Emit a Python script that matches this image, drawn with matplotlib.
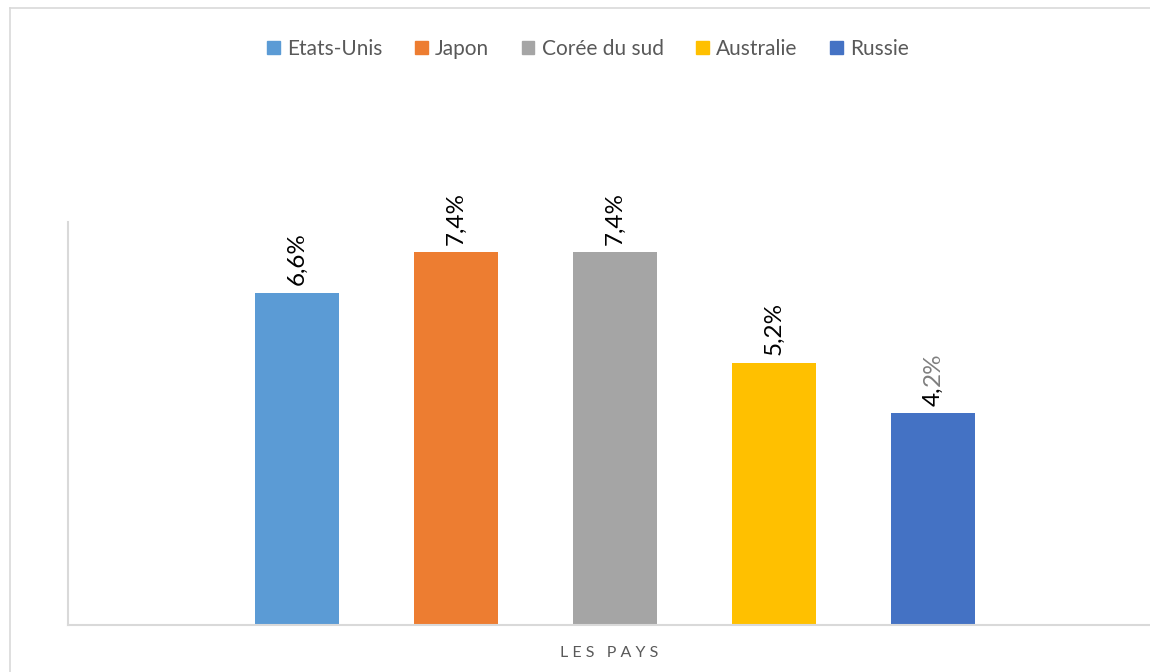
import matplotlib
matplotlib.use('Agg')
import matplotlib.pyplot as plt
from matplotlib.patches import Rectangle
from matplotlib.lines import Line2D

pays = ['Etats-Unis', 'Japon', 'Corée du sud', 'Australie', 'Russie']
valeurs = [6.6, 7.4, 7.4, 5.2, 4.2]
etiquettes = ['6,6%', '7,4%', '7,4%', '5,2%', '4,2%']
couleurs = ['#5b9bd5', '#ed7d31', '#a5a5a5', '#ffc000', '#4472c4']

plt.rcParams['font.family'] = ['Lato', 'DejaVu Sans']

W, H = 1150, 672
fig = plt.figure(figsize=(W / 100, H / 100), dpi=100)

# chart frame (left + top edges visible)
fig.add_artist(Line2D([10 / W, 10 / W], [0, 1 - 8 / H], transform=fig.transFigure,
                      color='#d9d9d9', lw=1.2))
fig.add_artist(Line2D([10 / W, 1], [1 - 8 / H, 1 - 8 / H], transform=fig.transFigure,
                      color='#d9d9d9', lw=1.2))

ax_l, ax_r, ax_b, ax_t = 68, 1162, 625, 222
ax = fig.add_axes([ax_l / W, 1 - ax_b / H, (ax_r - ax_l) / W, (ax_b - ax_t) / H])

x = range(len(pays))
ax.bar(x, valeurs, width=0.527, color=couleurs, zorder=2)
ax.set_xlim(2 - 3.438, 2 + 3.438)
ax.set_ylim(0, 8)

fs = 17.5
for xi, v, lab in zip(x, valeurs, etiquettes):
    if lab == '4,2%':
        # "4," black, "2%" grey as in the original
        t = ax.annotate('4,', (xi, v), xytext=(0, 5.5), textcoords='offset points',
                        rotation=90, ha='center', va='bottom', fontsize=fs, color='black')
        ax.annotate('2%', xy=(0.5, 1), xycoords=t, xytext=(0, 0), textcoords='offset points',
                    rotation=90, ha='center', va='bottom', fontsize=fs, color='#7f7f7f')
    else:
        ax.annotate(lab, (xi, v), xytext=(0, 5.5), textcoords='offset points',
                    rotation=90, ha='center', va='bottom', fontsize=fs, color='black')

for s in ['top', 'right']:
    ax.spines[s].set_visible(False)
for s in ['left', 'bottom']:
    ax.spines[s].set_color('#d9d9d9')
    ax.spines[s].set_linewidth(1.5)
ax.set_xticks([])
ax.set_yticks([])

fig.text(609 / W, 1 - 653 / H, 'L E S   P A Y S', ha='center', va='center',
         fontsize=11.5, color='#595959')

handles = [Rectangle((0, 0), 1, 1, color=c) for c in couleurs]
fig.legend(handles, pays, loc='center', bbox_to_anchor=(588 / W, 1 - 49 / H),
           ncol=5, frameon=False, fontsize=15, labelcolor='#595959',
           handlelength=0.62, handleheight=0.62, handletextpad=0.35, columnspacing=1.55)

fig.savefig('out.png', dpi=100)
